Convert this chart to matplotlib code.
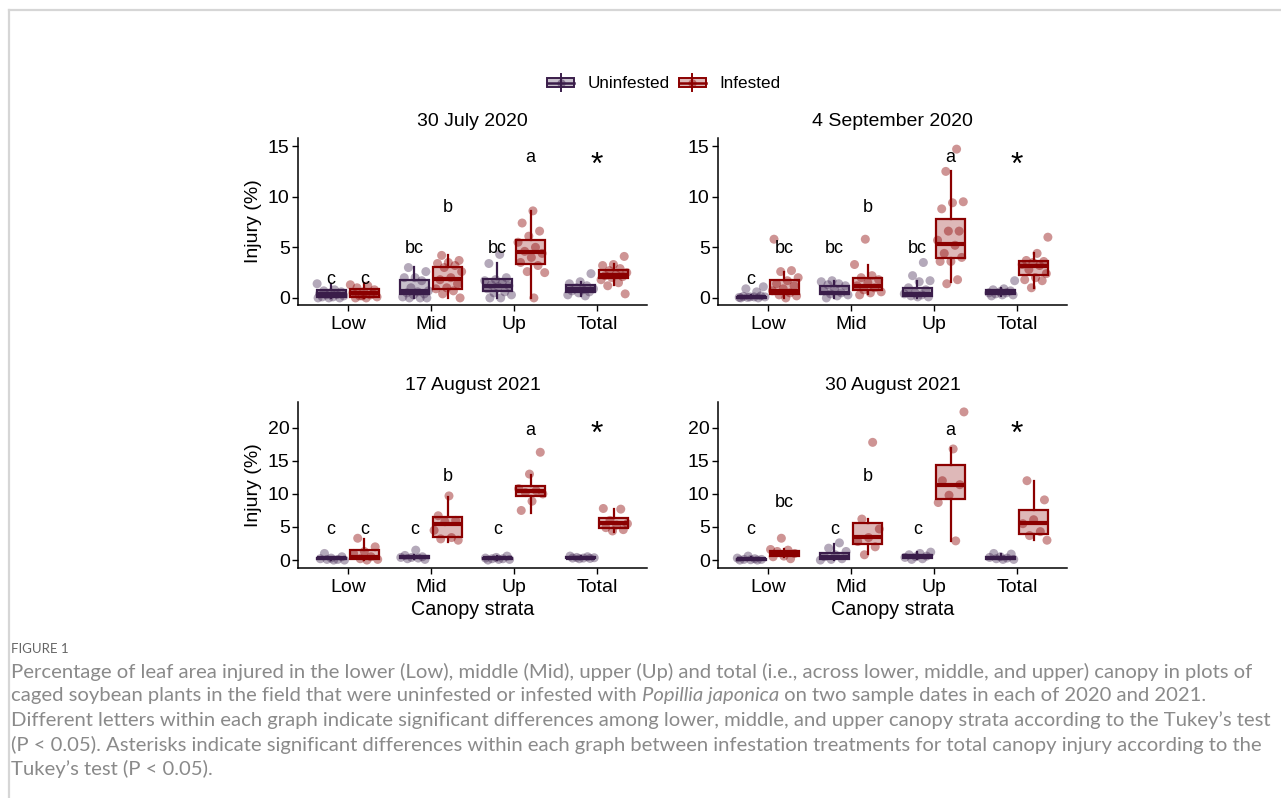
import numpy as np
import matplotlib
matplotlib.use("Agg")
import matplotlib.pyplot as plt
from matplotlib.patches import Rectangle, Patch
from matplotlib.lines import Line2D
from matplotlib.legend_handler import HandlerBase

strata = ["Low", "Mid", "Up", "Total"]
titles = ["30 July 2020", "4 September 2020", "17 August 2021", "30 August 2021"]

# box stats per stratum: [whisker low, q1, median, q3, whisker high]
jul20_unin_box = [[0.0, 0.1, 0.35, 0.75, 1.4], [0.0, 0.43, 0.65, 1.74, 3.05],
                  [0.0, 0.72, 1.2, 1.87, 3.45], [0.2, 0.55, 0.87, 1.3, 1.6]]
jul20_inf_box = [[0.0, 0.1, 0.45, 0.85, 1.5], [0.0, 0.9, 1.87, 3.05, 4.27],
                 [0.0, 3.35, 4.5, 5.68, 8.6], [1.3, 1.97, 2.3, 2.8, 3.4]]
sep20_unin_box = [[0.0, 0.0, 0.05, 0.12, 0.25], [0.0, 0.36, 0.5, 1.15, 1.7],
                  [0.0, 0.15, 0.43, 1.0, 1.7], [0.2, 0.36, 0.55, 0.76, 1.0]]
sep20_inf_box = [[0.0, 0.43, 0.7, 1.8, 2.6], [0.4, 0.76, 1.2, 1.98, 3.3],
                 [1.6, 3.9, 5.3, 7.75, 12.5], [1.0, 2.3, 3.2, 3.6, 4.4]]
aug17_unin_box = [[0.0, 0.1, 0.25, 0.35, 0.5], [0.1, 0.3, 0.45, 0.6, 0.8],
                  [0.0, 0.1, 0.25, 0.35, 0.6], [0.2, 0.25, 0.35, 0.45, 0.6]]
aug17_inf_box = [[0.0, 0.1, 0.4, 1.5, 3.2], [2.8, 3.5, 5.4, 6.55, 9.6],
                 [7.05, 9.7, 10.4, 11.2, 12.85], [4.3, 4.8, 5.55, 6.4, 7.65]]
aug30_unin_box = [[0.0, 0.0, 0.1, 0.2, 0.4], [0.0, 0.1, 0.5, 1.1, 2.5],
                  [0.1, 0.3, 0.55, 0.8, 1.2], [0.1, 0.15, 0.35, 0.5, 0.9]]
aug30_inf_box = [[0.5, 0.6, 1.1, 1.4, 1.6], [0.85, 2.37, 3.5, 5.55, 6.15],
                 [2.9, 9.17, 11.3, 14.35, 16.9], [3.0, 3.93, 5.55, 7.55, 11.9]]

# individual plot values per stratum
jul20_unin_pts = [[1.4, 0.8, 0.7, 0.6, 0.5, 0.4, 0.35, 0.3, 0.2, 0.1, 0.1, 0.0, 0.0, 0.0],
                  [3.0, 2.6, 2.0, 2.0, 1.7, 1.0, 0.7, 0.6, 0.5, 0.4, 0.3, 0.1, 0.0, 0.0, 0.0],
                  [4.3, 3.4, 2.0, 1.8, 1.7, 1.5, 1.3, 1.2, 1.1, 0.9, 0.6, 0.5, 0.3, 0.0, 0.0],
                  [2.4, 1.6, 1.4, 1.2, 1.0, 0.9, 0.8, 0.7, 0.6, 0.5, 0.3, 0.2]]
jul20_inf_pts = [[1.3, 1.2, 1.0, 0.8, 0.6, 0.5, 0.3, 0.2, 0.1, 0.0, 0.0, 0.4, 0.2],
                 [4.2, 3.7, 3.5, 3.4, 3.2, 3.0, 2.6, 2.0, 1.8, 1.4, 1.0, 0.9, 0.7, 0.4, 0.0],
                 [8.6, 7.4, 6.6, 6.1, 5.5, 5.0, 4.6, 4.4, 4.0, 3.5, 3.2, 2.6, 2.5, 0.0],
                 [4.1, 3.3, 3.2, 2.9, 2.7, 2.5, 2.3, 2.2, 2.1, 2.0, 1.8, 1.5, 1.2, 0.4]]
sep20_unin_pts = [[0.0, 0.0, 0.05, 0.1, 0.1, 0.15, 0.2, 0.1, 0.05, 0.6, 0.9, 1.1],
                  [1.7, 1.6, 1.4, 1.3, 1.2, 0.9, 0.7, 0.5, 0.4, 0.3, 0.2, 0.0],
                  [3.5, 2.2, 1.7, 1.6, 1.0, 0.8, 0.5, 0.4, 0.3, 0.2, 0.1, 0.1],
                  [1.7, 0.9, 0.8, 0.7, 0.6, 0.5, 0.5, 0.4, 0.3, 0.3, 0.2]]
sep20_inf_pts = [[5.8, 2.7, 2.6, 2.0, 1.7, 1.4, 1.2, 0.9, 0.7, 0.5, 0.3, 0.2, 0.0],
                 [5.8, 3.3, 2.2, 2.0, 1.8, 1.5, 1.2, 1.0, 0.8, 0.6, 0.5, 0.3],
                 [14.7, 12.5, 9.5, 9.4, 8.8, 6.6, 6.6, 5.7, 5.2, 4.4, 4.0, 3.6, 3.6, 1.8, 1.4],
                 [6.0, 4.4, 3.7, 3.6, 3.5, 3.3, 3.2, 2.8, 2.4, 2.0, 1.8, 1.7, 1.0]]
aug17_unin_pts = [[1.0, 0.5, 0.3, 0.2, 0.1, 0.1, 0.0, 0.0],
                  [1.5, 0.7, 0.5, 0.4, 0.4, 0.3, 0.2, 0.1],
                  [0.6, 0.4, 0.3, 0.2, 0.2, 0.1, 0.1, 0.0],
                  [0.6, 0.5, 0.4, 0.35, 0.3, 0.3, 0.25, 0.2]]
aug17_inf_pts = [[3.3, 2.0, 1.3, 1.0, 0.5, 0.2, 0.1, 0.0],
                 [9.7, 6.7, 6.0, 5.8, 4.5, 3.4, 3.2, 3.0],
                 [16.3, 13.0, 10.8, 10.5, 10.2, 10.0, 8.9, 7.5],
                 [7.8, 7.7, 6.0, 5.5, 5.3, 4.9, 4.6, 4.4]]
aug30_unin_pts = [[0.6, 0.3, 0.2, 0.1, 0.1, 0.05, 0.0, 0.0],
                  [2.6, 1.8, 1.3, 0.8, 0.5, 0.2, 0.1, 0.0],
                  [1.2, 1.0, 0.8, 0.6, 0.5, 0.4, 0.2, 0.1],
                  [1.0, 0.9, 0.5, 0.4, 0.3, 0.2, 0.1, 0.1]]
aug30_inf_pts = [[3.3, 1.6, 1.5, 1.3, 1.0, 0.6, 0.5, 0.2],
                 [17.8, 6.2, 4.7, 3.4, 2.8, 2.0, 0.8],
                 [22.4, 16.8, 12.0, 11.4, 9.8, 8.7, 2.9],
                 [12.0, 9.1, 6.1, 5.5, 4.3, 3.7, 3.0]]

# significance letters (uninfested, infested) for Low, Mid, Up and their heights
jul20_letters = [("c", "c"), ("bc", "b"), ("bc", "a")]
jul20_letter_y = [(1.8, 1.8), (4.85, 8.9), (4.85, 13.85)]
sep20_letters = [("c", "bc"), ("bc", "b"), ("bc", "a")]
sep20_letter_y = [(1.8, 4.9), (4.9, 8.9), (4.9, 13.85)]
aug17_letters = [("c", "c"), ("c", "b"), ("c", "a")]
aug17_letter_y = [(4.6, 4.6), (4.6, 12.6), (4.6, 19.6)]
aug30_letters = [("c", "bc"), ("c", "b"), ("c", "a")]
aug30_letter_y = [(4.6, 8.7), (4.6, 12.7), (4.6, 19.6)]
star_y = [13.0, 13.0, 19.0, 19.0]

panels = [
    (jul20_unin_box, jul20_inf_box, jul20_unin_pts, jul20_inf_pts, jul20_letters, jul20_letter_y),
    (sep20_unin_box, sep20_inf_box, sep20_unin_pts, sep20_inf_pts, sep20_letters, sep20_letter_y),
    (aug17_unin_box, aug17_inf_box, aug17_unin_pts, aug17_inf_pts, aug17_letters, aug17_letter_y),
    (aug30_unin_box, aug30_inf_box, aug30_unin_pts, aug30_inf_pts, aug30_letters, aug30_letter_y),
]

unin_col = "#3a1d4a"
inf_col = "#8b0000"
font = ["Liberation Sans", "DejaVu Sans"]
plt.rcParams["font.family"] = font

fig = plt.figure(figsize=(12.81, 7.98), dpi=100)

W, H = 1281, 798
def px_axes(l, t, r, b):
    return fig.add_axes([l / W, 1 - b / H, (r - l) / W, (b - t) / H])

positions = [(298, 138, 647, 305), (718, 138, 1067, 305),
             (298, 402, 647, 568), (718, 402, 1067, 568)]
ylims = [(-0.7, 15.8), (-0.7, 15.8), (-1.2, 23.9), (-1.2, 23.9)]
yticks = [[0, 5, 10, 15], [0, 5, 10, 15], [0, 5, 10, 15, 20], [0, 5, 10, 15, 20]]

dodge = 0.2
bw = 0.35
golden = 0.6180339887

for k, (ubox, ibox, upts, ipts, letters, letter_y) in enumerate(panels):
    ax = px_axes(*positions[k])
    for shift, boxes, pts, col, pt_alpha in [(-dodge, ubox, upts, unin_col, 0.38),
                                              (dodge, ibox, ipts, inf_col, 0.42)]:
        stats = []
        for b in boxes:
            stats.append(dict(whislo=b[0], q1=b[1], med=b[2], q3=b[3], whishi=b[4]))
        pos = np.arange(1, 5) + shift
        ax.bxp(stats, positions=pos, widths=bw, showcaps=False, showfliers=False,
               patch_artist=True,
               boxprops=dict(facecolor=matplotlib.colors.to_rgba(col, 0.28), edgecolor=col, linewidth=1.6),
               medianprops=dict(color=col, linewidth=3.0),
               whiskerprops=dict(color=col, linewidth=1.6), zorder=2)
        for i, vals in enumerate(pts):
            n = len(vals)
            offs = ((np.arange(n) * golden + 0.13 * k + 0.29 * i) % 1 - 0.5) * 0.34
            ax.scatter(pos[i] + offs, vals, s=42, color=col, alpha=pt_alpha,
                       edgecolors="none", zorder=3)
    for i in range(3):
        ax.text(i + 1 - dodge, letter_y[i][0], letters[i][0], ha="center", va="center", fontsize=13)
        ax.text(i + 1 + dodge, letter_y[i][1], letters[i][1], ha="center", va="center", fontsize=13)
    ax.text(4, star_y[k], "*", ha="center", va="center", fontsize=23)

    ax.set_xlim(0.4, 4.6)
    ax.set_ylim(*ylims[k])
    ax.set_xticks(np.arange(1, 5))
    ax.set_xticklabels(strata)
    ax.set_yticks(yticks[k])
    ax.tick_params(labelsize=14, length=4, width=1, color="black", labelcolor="black", pad=2)
    ax.tick_params(axis="x", pad=4)
    for s in ["top", "right"]:
        ax.spines[s].set_visible(False)
    for s in ["left", "bottom"]:
        ax.spines[s].set_linewidth(1.1)
    ax.set_title(titles[k], fontsize=14, pad=9)
    if k % 2 == 0:
        ax.set_ylabel("Injury (%)", fontsize=14, labelpad=4)
    if k >= 2:
        ax.set_xlabel("Canopy strata", fontsize=14.2, labelpad=3)


class BoxKey(HandlerBase):
    def create_artists(self, legend, orig_handle, xdescent, ydescent, width, height, fontsize, trans):
        col = orig_handle.get_edgecolor()
        cx = width / 2 - xdescent
        cy = height / 2 - ydescent
        rect = Rectangle((-xdescent, cy - height * 0.35), width, height * 0.7,
                         facecolor=orig_handle.get_facecolor(), edgecolor=col, linewidth=1.4, transform=trans)
        med = Line2D([-xdescent, width - xdescent], [cy, cy], color=col, linewidth=1.8, transform=trans)
        wh = Line2D([cx, cx], [cy - height * 0.7, cy + height * 0.7], color=col, linewidth=1.4, transform=trans)
        dot = Line2D([cx], [cy], marker="o", markersize=6, color=col, alpha=0.45,
                     markeredgewidth=0, linestyle="none", transform=trans)
        return [rect, wh, med, dot]


handles = [Patch(facecolor=matplotlib.colors.to_rgba(unin_col, 0.28), edgecolor=unin_col),
           Patch(facecolor=matplotlib.colors.to_rgba(inf_col, 0.28), edgecolor=inf_col)]
fig.legend(handles, ["Uninfested", "Infested"], loc="center", bbox_to_anchor=(664 / W, 1 - 84 / H),
           ncol=2, frameon=False, fontsize=12.3, handler_map={Patch: BoxKey()},
           handlelength=1.6, handletextpad=0.8, columnspacing=0.5)

# page frame
fig.add_artist(Line2D([9 / W, 1], [1 - 10 / H, 1 - 10 / H], color="#d6d6d6", linewidth=1.6))
fig.add_artist(Line2D([9 / W, 9 / W], [0, 1 - 10 / H], color="#d6d6d6", linewidth=1.6))

# caption
cap_col = "#8a8a8a"
cap_font = ["Lato", "DejaVu Sans"]
fig.text(11 / W, 1 - 649 / H, "FIGURE 1", fontsize=9.5, color="#666666", family=cap_font, va="center")
lines = [
    ["Percentage of leaf area injured in the lower (Low), middle (Mid), upper (Up) and total (i.e., across lower, middle, and upper) canopy in plots of"],
    ["caged soybean plants in the field that were uninfested or infested with ", "Popillia japonica",
     " on two sample dates in each of 2020 and 2021."],
    ["Different letters within each graph indicate significant differences among lower, middle, and upper canopy strata according to the Tukey\u2019s test"],
    ["(P < 0.05). Asterisks indicate significant differences within each graph between infestation treatments for total canopy injury according to the"],
    ["Tukey\u2019s test (P < 0.05)."],
]
line_y = [672, 696, 720, 745, 769]

renderer = fig.canvas.get_renderer()
scales = []
for txt, target in [(lines[0][0], 1251), (lines[2][0], 1255)]:
    probe = fig.text(0, 0, txt, fontsize=12, family=cap_font)
    scales.append(target / probe.get_window_extent(renderer).width)
    probe.remove()
cap_size = 12 * min(scales)

for parts, y in zip(lines, line_y):
    x = 11
    for j, part in enumerate(parts):
        style = "italic" if (len(parts) == 3 and j == 1) else "normal"
        t = fig.text(x / W, 1 - y / H, part, fontsize=cap_size, family=cap_font,
                     style=style, color=cap_col, va="center")
        x += t.get_window_extent(renderer).width

fig.savefig("out.png", dpi=100)
